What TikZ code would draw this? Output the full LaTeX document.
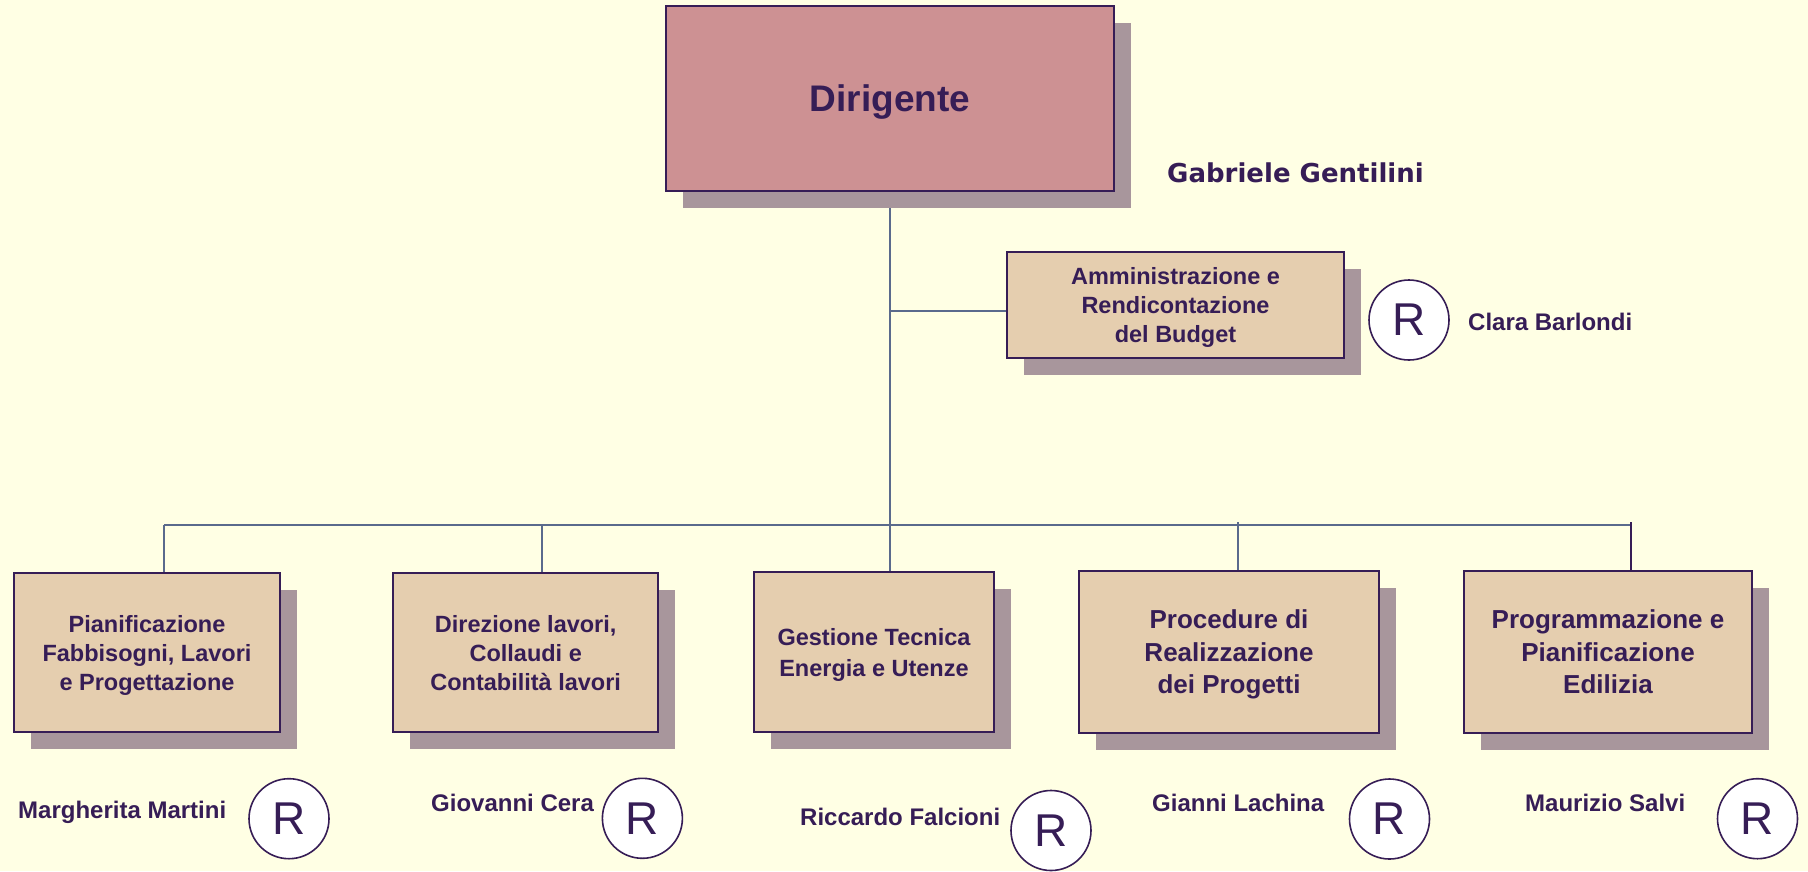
\documentclass[tikz,border=0pt]{standalone}
\usepackage{fontspec}
\setmainfont{Liberation Sans}
\newfontfamily\headfont{DejaVu Sans}
\usetikzlibrary{shadows,backgrounds}
\definecolor{Paper}{RGB}{255,255,228}
\definecolor{Rose}{RGB}{205,145,147}
\definecolor{Tan}{RGB}{229,206,175}
\definecolor{Shade}{RGB}{168,150,156}
\definecolor{Plum}{RGB}{54,29,86}
\definecolor{Slate}{RGB}{90,106,140}

\tikzset{
  office/.style={draw=Plum, line width=2.2pt, fill=Tan, align=center, text=Plum, inner sep=0pt,
    text depth=0pt, font=\bfseries\fontsize{23.5}{29}\selectfont,
    drop shadow={shadow xshift=17pt, shadow yshift=-17pt, fill=Shade, opacity=1}},
  bigoffice/.style={office, font=\bfseries\fontsize{26}{32.5}\selectfont},
  resp/.style={draw=Plum, line width=1.6pt, fill=white, circle, minimum size=80pt, inner sep=0pt,
    text=Plum, font=\fontsize{46}{46}\selectfont},
  person/.style={anchor=base west, inner sep=0pt, text=Plum, font=\bfseries\fontsize{24}{24}\selectfont},
  link/.style={draw=Slate, line width=2pt}
}

\begin{document}
\begin{tikzpicture}[x=1pt, y=-1pt]
    \useasboundingbox (0,0) rectangle (1808,871);

    % Head of the department
    \node[office, fill=Rose, minimum width=448pt, minimum height=185pt, font=\bfseries\fontsize{37}{44}\selectfont] (dir) at (890,98.5) {Dirigente};
    \node[person, font=\headfont\bfseries\fontsize{26}{26}\selectfont] (ndir) at (1167,182.7) {Gabriele Gentilini};

    % Staff unit
    \node[office, minimum width=337pt, minimum height=106pt] (budget) at (1175.5,305) {Amministrazione e\\Rendicontazione\\del Budget};
    \node[resp] (rbudget) at (1409,320) {R};
    \node[person] (nbudget) at (1468,330) {Clara Barlondi};

    % Line units
    \node[office, minimum width=266pt, minimum height=159pt] (pian) at (147,652.5) {Pianificazione\\Fabbisogni, Lavori\\e Progettazione};
    \node[office, minimum width=265pt, minimum height=159pt] (direz) at (525.7,652.5) {Direzione lavori,\\Collaudi e\\Contabilità lavori};
    \node[office, minimum width=240pt, minimum height=160pt, font=\bfseries\fontsize{23.5}{31}\selectfont] (gest) at (874,652) {Gestione Tecnica\\Energia e Utenze};
    \node[bigoffice, minimum width=300pt, minimum height=162pt] (proc) at (1229,652) {Procedure di\\Realizzazione\\dei Progetti};
    \node[bigoffice, minimum width=288pt, minimum height=162pt] (prog) at (1608,652) {Programmazione e\\Pianificazione\\Edilizia};

    % Responsabili
    \node[resp] (rpian) at (289,818.7) {R};
    \node[person] (npian) at (18,818.3) {Margherita Martini};
    \node[resp] (rdirez) at (642.4,818.3) {R};
    \node[person] (ndirez) at (431,811.7) {Giovanni Cera};
    \node[resp] (rgest) at (1051,830.5) {R};
    \node[person] (ngest) at (800,825) {Riccardo Falcioni};
    \node[resp] (rproc) at (1389.5,819) {R};
    \node[person] (nproc) at (1152,811.7) {Gianni Lachina};
    \node[resp] (rprog) at (1757.5,818.7) {R};
    \node[person] (nprog) at (1525,811.7) {Maurizio Salvi};

    % Connections
    \coordinate (tap) at (890,311);
    \coordinate (busL) at (164,525);
    \coordinate (busR) at (1631,525);
    \coordinate (dropD) at (542,525);
    \coordinate (dropP) at (1238,522);
    \begin{scope}[on background layer]
        \fill[Paper] (0,0) rectangle (1808,871);
        \draw[link] (dir.south) -- (dir.south |- gest.north);
        \draw[link] (tap) -- (tap -| budget.west);
        \draw[link] (busL) -- (busR);
        \draw[link] (busL) -- (busL |- pian.north);
        \draw[link] (dropD) -- (dropD |- direz.north);
        \draw[link] (dropP) -- (dropP |- proc.north);
        \draw[Plum, line width=2.2pt] ([yshift=3pt]busR) -- (busR |- prog.north);
    \end{scope}
\end{tikzpicture}
\end{document}
